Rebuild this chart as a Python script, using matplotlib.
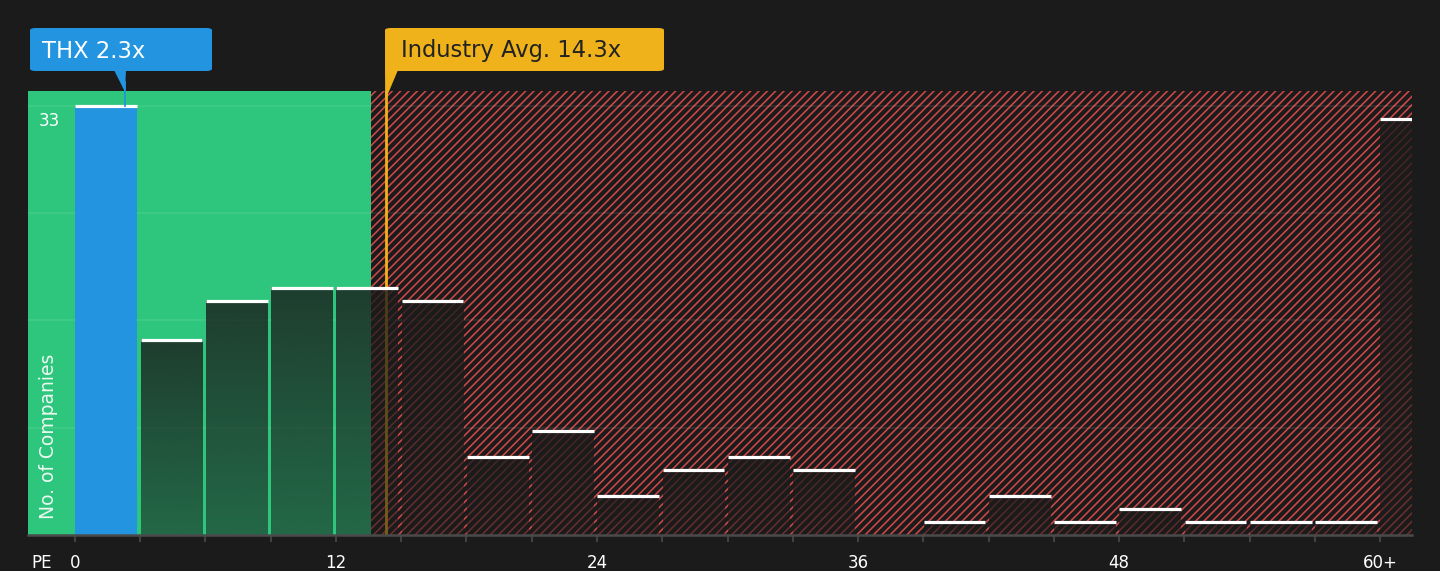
import numpy as np
import matplotlib.pyplot as plt
from matplotlib.patches import Rectangle, Polygon, FancyBboxPatch
from matplotlib.colors import to_rgb
from matplotlib.transforms import blended_transform_factory

# PE histogram, bins of 3 from 0 to 60, then a "60+" bin
bin_starts = np.arange(0, 60, 3)
counts = [33, 15, 18, 19, 19, 18, 6, 8, 3, 5, 6, 5, 0, 1, 3, 1, 2, 1, 1, 1]
over_60_count = 32
company_name = "THX"
company_pe = 2.3
industry_pe = 14.3
good_zone_end = 13.6
tick_vals = [0, 12, 24, 36, 48, 60]
tick_labels = ["0", "12", "24", "36", "48", "60+"]
y_max_label = 33

BG = "#1b1b1b"
GREEN = "#2dc67c"
BLUE = "#2294e0"
ORANGE = "#efb21b"
RED = "#cf4848"
GREY = "#4a4a4a"

plt.rcParams["hatch.linewidth"] = 1.15
plt.rcParams["font.family"] = ["DejaVu Sans"]

W, H = 1440, 571
fig = plt.figure(figsize=(W / 100, H / 100), dpi=100, facecolor=BG)
ax = fig.add_axes([28 / W, 1 - 535 / H, (1412 - 28) / W, (535 - 91) / H])
ax.set_facecolor(BG)
x_lo, x_hi = -2.16, 61.47
y_hi = 34.15

# zones
ax.axvspan(x_lo, good_zone_end, color=GREEN, lw=0, zorder=0)
ax.axvspan(good_zone_end, x_hi, facecolor=BG, edgecolor=RED, hatch="////", lw=0, zorder=0)

# grid
for k in range(1, 5):
    ax.axhline(y_max_label * k / 4, color="white", alpha=0.09, lw=1.2, zorder=1)

# industry line (behind bars)
ax.axvline(industry_pe, color=ORANGE, lw=2, zorder=1.5)

bw = 2.84
off = 0.02
grad = np.zeros((64, 1, 4))
grad[..., :3] = to_rgb(BG)
grad[..., 3] = np.linspace(0.55, 0.8, 64)[:, None]

lefts, rights, tops = [], [], []
for i, (x0, c) in enumerate(zip(bin_starts, counts)):
    if c == 0:
        continue
    left = x0 + off
    if i == 0:
        ax.add_patch(Rectangle((left, 0), bw, c, color=BLUE, lw=0, zorder=2))
    else:
        ax.imshow(grad, extent=(left, left + bw, 0, c), origin="lower",
                  aspect="auto", interpolation="bilinear", zorder=2)
    lefts.append(left)
    rights.append(left + bw)
    tops.append(c)

# 60+ bar
ax.imshow(grad, extent=(60, x_hi, 0, over_60_count), origin="lower",
          aspect="auto", interpolation="bilinear", zorder=2)
lefts.append(60)
rights.append(x_hi)
tops.append(over_60_count)

ax.hlines(tops, lefts, rights, color="white", lw=2.3, zorder=3)

ax.set_xlim(x_lo, x_hi)
ax.set_ylim(0, y_hi)

for s in ["top", "right", "left"]:
    ax.spines[s].set_visible(False)
ax.spines["bottom"].set_color(GREY)
ax.spines["bottom"].set_linewidth(1.8)
ax.spines["bottom"].set_zorder(4)
ax.set_yticks([])
ax.set_xticks(np.arange(0, 61, 3), minor=True)
ax.set_xticks(tick_vals)
ax.set_xticklabels(tick_labels)
ax.tick_params(axis="x", which="both", colors=GREY, length=5, width=1.2)
ax.tick_params(axis="x", which="major", labelcolor="white", labelsize=12, pad=9)

bt = blended_transform_factory(ax.transData, ax.transAxes)
ax.text(-1.52, -28 / 444, "PE", transform=bt, color="white", fontsize=12,
        ha="center", va="center", clip_on=False)
ax.text(-1.2, y_max_label - 0.45, str(y_max_label), color="white", fontsize=12,
        ha="center", va="top", zorder=5)
ax.text(-1.22, 1.2, "No. of Companies", color="white", alpha=0.9, fontsize=13.5,
        rotation=90, ha="center", va="bottom", zorder=5)

# callouts, positioned from the data x through the axes transform
inv = fig.transFigure.inverted()


def px(xdata):
    return ax.transData.transform((xdata, 0))[0]


def fig_pt(x_pix, y_img):
    return inv.transform((x_pix, H - y_img))


def callout(xdata, dx0, dx1, color, text, tcolor, tri, text_dx):
    xp = px(xdata)
    (bx0, by0) = fig_pt(xp + dx0, 71)
    (bx1, by1) = fig_pt(xp + dx1, 28)
    box = FancyBboxPatch((bx0, by0), bx1 - bx0, by1 - by0,
                         boxstyle="round,pad=0,rounding_size=0.004",
                         transform=fig.transFigure, facecolor=color, lw=0)
    fig.add_artist(box)
    pts = [fig_pt(xp + a, b) for a, b in tri]
    fig.add_artist(Polygon(pts, closed=True, transform=fig.transFigure,
                           facecolor=color, lw=0))
    tx, ty = fig_pt(xp + text_dx, 51)
    fig.text(tx, ty, text, color=tcolor, fontsize=16.3, ha="left", va="center")


callout(company_pe, -95, 87, BLUE, f"{company_name} {company_pe}x", "white",
        [(-11, 70), (1, 70), (0, 92)], -83)
callout(industry_pe, -1, 278, ORANGE, f"Industry Avg. {industry_pe}x", "#222222",
        [(-1, 70), (12, 70), (1, 96)], 15)

# connector lines from the callouts into the plot
ax.plot([company_pe, company_pe], [(y_max_label) / y_hi, 1.02], color=BLUE, lw=1.3,
        transform=bt, clip_on=False, zorder=4)
ax.plot([industry_pe, industry_pe], [0.99, 1.05], color=ORANGE, lw=2,
        transform=bt, clip_on=False, zorder=4)

fig.savefig("out.png", dpi=100, facecolor=BG)
